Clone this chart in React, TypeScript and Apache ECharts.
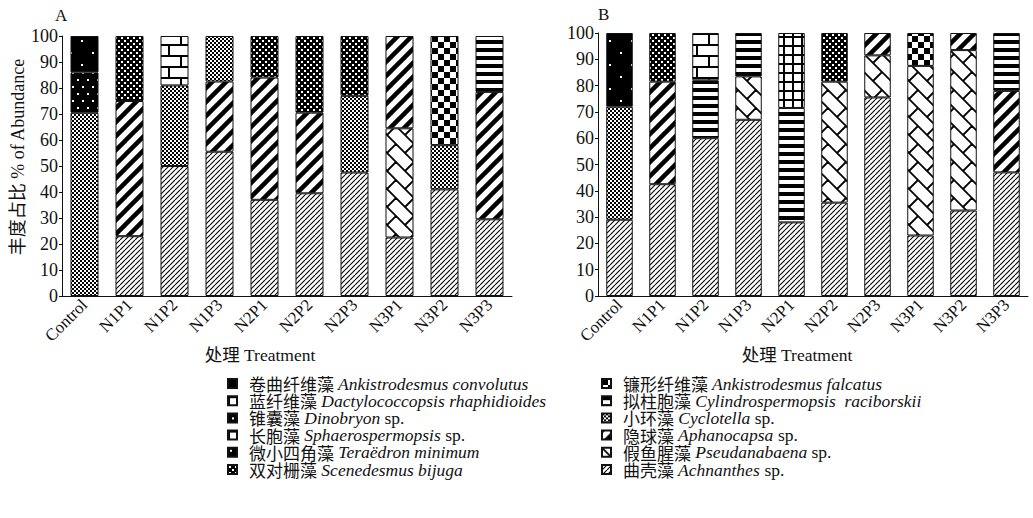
import React, { useEffect, useRef } from 'react';
import * as echarts from 'echarts';

// ---------- data ----------
const categories = ['Control', 'N1P1', 'N1P2', 'N1P3', 'N2P1', 'N2P2', 'N2P3', 'N3P1', 'N3P2', 'N3P3'];

// species in stacking order (bottom -> top)
const speciesLatin = [
  'Achnanthes',
  'Pseudanabaena',
  'Aphanocapsa',
  'Cyclotella',
  'Cylindrospermopsis  raciborskii',
  'Teraëdron minimum',
  'Dinobryon',
  'Scenedesmus bijuga',
  'Ankistrodesmus falcatus',
  'Dactylococcopsis rhaphidioides',
  'Sphaerospermopsis',
  'Ankistrodesmus convolutus',
];
const speciesCn = ['曲壳藻', '假鱼腥藻', '隐球藻', '小环藻', '拟柱胞藻', '微小四角藻', '锥囊藻', '双对栅藻', '镰形纤维藻', '蓝纤维藻', '长胞藻', '卷曲纤维藻'];
const speciesSuffix = ['sp.', 'sp.', 'sp.', 'sp.', '', '', 'sp.', '', '', '', 'sp.', ''];

const legendLeftOrder = [11, 9, 6, 10, 5, 7];
const legendRightOrder = [8, 4, 3, 2, 1, 0];

// Panel A (segment sizes, %)
const achnanthesA = [0, 23, 50, 55.5, 37, 39.5, 47.5, 22.5, 41, 29.5];
const pseudanabaenaA = [0, 0, 0, 0, 0, 0, 0, 42, 0, 0];
const aphanocapsaA = [0, 52, 0, 27, 47, 31, 0, 35.5, 0, 49];
const cyclotellaA = [70.5, 0, 31, 17.5, 0, 0, 29.5, 0, 17, 0];
const cylindroA = [0, 0, 0, 0, 0, 0, 0, 0, 0, 21.5];
const teraedronA = [15.5, 0, 0, 0, 0, 0, 0, 0, 0, 0];
const dinobryonA = [14, 0, 0, 0, 0, 0, 0, 0, 0, 0];
const scenedesmusA = [0, 25, 0, 0, 16, 29.5, 23, 0, 0, 0];
const falcatusA = [0, 0, 0, 0, 0, 0, 0, 0, 42, 0];
const dactyloA = [0, 0, 19, 0, 0, 0, 0, 0, 0, 0];
const sphaeroA = [0, 0, 0, 0, 0, 0, 0, 0, 0, 0];
const convolutusA = [0, 0, 0, 0, 0, 0, 0, 0, 0, 0];

// Panel B (segment sizes, %)
const achnanthesB = [29, 42.5, 60, 67, 28, 35.5, 75.5, 23, 32.5, 47];
const pseudanabaenaB = [0, 0, 0, 16.5, 0, 46, 16, 64.5, 61, 0];
const aphanocapsaB = [0, 39, 0, 0, 0, 0, 8.5, 0, 6.5, 31];
const cyclotellaB = [43, 0, 0, 0, 0, 0, 0, 0, 0, 0];
const cylindroB = [0, 0, 22, 16.5, 43.5, 0, 0, 0, 0, 22];
const teraedronB = [0, 0, 0, 0, 0, 0, 0, 0, 0, 0];
const dinobryonB = [28, 0, 0, 0, 0, 0, 0, 0, 0, 0];
const scenedesmusB = [0, 18.5, 0, 0, 0, 18.5, 0, 0, 0, 0];
const falcatusB = [0, 0, 0, 0, 0, 0, 0, 12.5, 0, 0];
const dactyloB = [0, 0, 18, 0, 0, 0, 0, 0, 0, 0];
const sphaeroB = [0, 0, 0, 0, 28.5, 0, 0, 0, 0, 0];
const convolutusB = [0, 0, 0, 0, 0, 0, 0, 0, 0, 0];

const panelA = [achnanthesA, pseudanabaenaA, aphanocapsaA, cyclotellaA, cylindroA, teraedronA, dinobryonA, scenedesmusA, falcatusA, dactyloA, sphaeroA, convolutusA];
const panelB = [achnanthesB, pseudanabaenaB, aphanocapsaB, cyclotellaB, cylindroB, teraedronB, dinobryonB, scenedesmusB, falcatusB, dactyloB, sphaeroB, convolutusB];

// ---------- patterns ----------
function tile(w: number, h: number, bg: string, draw: (ctx: CanvasRenderingContext2D) => void) {
  const c = document.createElement('canvas');
  c.width = w;
  c.height = h;
  const ctx = c.getContext('2d')!;
  ctx.fillStyle = bg;
  ctx.fillRect(0, 0, w, h);
  ctx.fillStyle = '#000';
  ctx.strokeStyle = '#000';
  draw(ctx);
  return { image: c, repeat: 'repeat' } as any;
}

function makePatterns(): any[] {
  const pats: any[] = [];
  // 0 Achnanthes: fine "/" hatch
  pats.push(tile(5, 5, '#fff', (ctx) => {
    ctx.lineWidth = 1.1;
    for (let k = -1; k <= 1; k++) {
      ctx.beginPath();
      ctx.moveTo(k * 5, 5);
      ctx.lineTo(k * 5 + 5, 0);
      ctx.stroke();
    }
  }));
  // 1 Pseudanabaena: diagonal brick "\" lattice
  pats.push(tile(36, 36, '#fff', (ctx) => {
    ctx.lineWidth = 1.8;
    for (let k = -4; k <= 4; k++) {
      ctx.beginPath();
      ctx.moveTo(k * 18 - 60, -60);
      ctx.lineTo(k * 18 + 100, 100);
      ctx.stroke();
      const off = ((k % 2) + 2) % 2 === 0 ? 18 : 0;
      for (let c = -108 + off; c <= 144; c += 36) {
        ctx.beginPath();
        ctx.moveTo((c + 18 * k) / 2, (c - 18 * k) / 2);
        ctx.lineTo((c + 18 * k + 18) / 2, (c - 18 * k - 18) / 2);
        ctx.stroke();
      }
    }
  }));
  // 2 Aphanocapsa: thick "/" stripes
  pats.push(tile(14, 14, '#fff', (ctx) => {
    ctx.lineWidth = 4.5;
    for (let k = -1; k <= 1; k++) {
      ctx.beginPath();
      ctx.moveTo(k * 14 - 2, 16);
      ctx.lineTo(k * 14 + 16, -2);
      ctx.stroke();
    }
  }));
  // 3 Cyclotella: fine checker
  pats.push(tile(4, 4, '#fff', (ctx) => {
    ctx.fillRect(0, 0, 2, 2);
    ctx.fillRect(2, 2, 2, 2);
  }));
  // 4 Cylindrospermopsis: horizontal stripes
  pats.push(tile(8, 8, '#fff', (ctx) => {
    ctx.fillRect(0, 0, 8, 4);
  }));
  // 5 Teraedron: black with white dots
  pats.push(tile(10, 14, '#000', (ctx) => {
    ctx.fillStyle = '#fff';
    ctx.fillRect(2, 2, 2, 2);
    ctx.fillRect(7, 9, 2, 2);
  }));
  // 6 Dinobryon: black with sparse white dots
  pats.push(tile(22, 24, '#000', (ctx) => {
    ctx.fillStyle = '#fff';
    ctx.fillRect(4, 4, 2, 2);
    ctx.fillRect(15, 16, 2, 2);
  }));
  // 7 Scenedesmus: dark dotted
  pats.push(tile(6, 6, '#000', (ctx) => {
    ctx.fillStyle = '#fff';
    ctx.fillRect(1, 1, 2, 2);
    ctx.fillRect(4, 4, 2, 2);
  }));
  // 8 A. falcatus: checkerboard
  pats.push(tile(12, 12, '#fff', (ctx) => {
    ctx.fillRect(0, 0, 6, 6);
    ctx.fillRect(6, 6, 6, 6);
  }));
  // 9 Dactylococcopsis: brick
  pats.push(tile(24, 22, '#fff', (ctx) => {
    ctx.fillRect(0, 0, 24, 2);
    ctx.fillRect(0, 11, 24, 2);
    ctx.fillRect(0, 0, 2, 11);
    ctx.fillRect(12, 11, 2, 11);
  }));
  // 10 Sphaerospermopsis: grid
  pats.push(tile(9, 9, '#fff', (ctx) => {
    ctx.fillRect(0, 0, 9, 2);
    ctx.fillRect(0, 0, 2, 9);
  }));
  // 11 A. convolutus: solid black
  pats.push('#000');
  return pats;
}

const serif = 'Liberation Serif';
const cjk = 'Noto Sans CJK SC';
const mixed = '"Liberation Serif", "Noto Sans CJK SC", serif';

export default function App() {
  const ref = useRef<HTMLDivElement>(null);

  useEffect(() => {
    if (!ref.current) return;
    const chart = echarts.init(ref.current, null, { renderer: 'svg' });
    const patterns = makePatterns();

    const series: any[] = [];
    [panelA, panelB].forEach((panel, p) => {
      panel.forEach((vals, i) => {
        series.push({
          type: 'bar',
          name: speciesLatin[i],
          stack: 'panel' + p,
          xAxisIndex: p,
          yAxisIndex: p,
          barWidth: p === 0 ? 28 : 26.5,
          silent: true,
          data: vals.map((v) => (v === 0 ? null : v)),
          itemStyle: { color: patterns[i], borderColor: '#111', borderWidth: 1 },
          emphasis: { disabled: true },
        });
      });
    });

    const legendFormatter = (name: string) => {
      const i = speciesLatin.indexOf(name);
      const suf = speciesSuffix[i] ? `{n| ${speciesSuffix[i]}}` : '';
      return `{cn|${speciesCn[i]}}{it| ${speciesLatin[i]}}${suf}`;
    };
    const LH = 17.2;
    const legendRich = {
      cn: { fontFamily: cjk, fontSize: 17, color: '#111', padding: [0, 0, 0, 7], lineHeight: LH },
      it: { fontFamily: serif, fontStyle: 'italic', fontSize: 17.5, color: '#111', lineHeight: LH },
      n: { fontFamily: serif, fontSize: 17.5, color: '#111', lineHeight: LH },
    };
    const makeLegend = (order: number[], left: number) => ({
      orient: 'vertical',
      left,
      top: 374.5,
      padding: 0,
      itemGap: -0.8,
      itemWidth: 9,
      itemHeight: 9,
      icon: 'rect',
      selectedMode: false,
      data: order.map((i) => speciesLatin[i]),
      formatter: legendFormatter,
      textStyle: { fontFamily: serif, fontSize: 17, color: '#111', lineHeight: LH, rich: legendRich },
    });

    const yAxisBase = {
      type: 'value',
      min: 0,
      max: 100,
      interval: 10,
      axisLine: { show: true, lineStyle: { color: '#111', width: 1 } },
      axisTick: { show: true, inside: false, length: 3, lineStyle: { color: '#111' } },
      splitLine: { show: false },
      axisLabel: { fontFamily: serif, fontSize: 18, color: '#111', margin: 4 },
    };
    const xAxisBase = {
      type: 'category',
      data: categories,
      axisLine: { show: true, lineStyle: { color: '#111', width: 1 } },
      axisTick: { show: false },
      axisLabel: { interval: 0, rotate: 45, fontFamily: serif, fontSize: 17, color: '#111', margin: 6 },
    };

    const option: any = {
      animation: false,
      backgroundColor: '#fff',
      grid: [
        { left: 62, top: 36, width: 450, height: 260 },
        { left: 598, top: 33, width: 430, height: 263 },
      ],
      xAxis: [
        { ...xAxisBase, gridIndex: 0 },
        { ...xAxisBase, gridIndex: 1 },
      ],
      yAxis: [
        { ...yAxisBase, gridIndex: 0 },
        { ...yAxisBase, gridIndex: 1 },
      ],
      legend: [makeLegend(legendLeftOrder, 227), makeLegend(legendRightOrder, 601)],
      graphic: [
        { type: 'text', left: 55, top: 7, style: { text: 'A', font: `17px ${mixed}`, fill: '#111' } },
        { type: 'text', left: 598, top: 6, style: { text: 'B', font: `17px ${mixed}`, fill: '#111' } },
        {
          type: 'text',
          x: 18,
          y: 157,
          rotation: Math.PI / 2,
          style: { text: '丰度占比 % of Abundance', font: `18px ${mixed}`, fill: '#111', align: 'center', verticalAlign: 'middle' },
        },
        {
          type: 'text',
          x: 260,
          y: 355,
          style: { text: '处理 Treatment', font: `17.5px ${mixed}`, fill: '#111', align: 'center', verticalAlign: 'middle' },
        },
        {
          type: 'text',
          x: 797,
          y: 355,
          style: { text: '处理 Treatment', font: `17.5px ${mixed}`, fill: '#111', align: 'center', verticalAlign: 'middle' },
        },
      ],
      series,
    };

    chart.setOption(option);
    return () => chart.dispose();
  }, []);

  return <div ref={ref} style={{ position: 'fixed', left: 0, top: 0, width: 1033, height: 518, background: '#fff' }} />;
}
